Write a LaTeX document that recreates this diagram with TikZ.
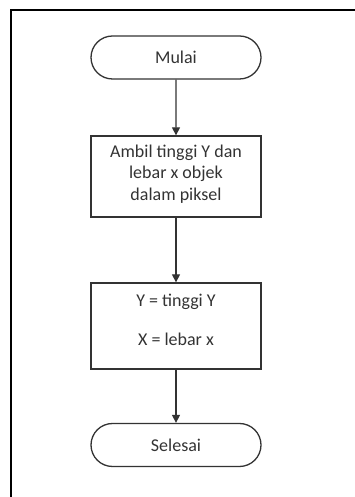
\documentclass[tikz,border=0pt]{standalone}
\usepackage{fontspec}
\setmainfont{Carlito}
\usetikzlibrary{shapes.misc,arrows.meta}
\definecolor{ink}{HTML}{333333}
\tikzset{
  x=1pt,y=1pt,
  terminal/.style={rounded rectangle, draw=ink, line width=1.3pt, minimum width=170pt, minimum height=43pt, inner sep=0pt, text=ink, font=\fontsize{18}{22}\selectfont},
  procbox/.style={rectangle, draw=ink, line width=1.3pt, minimum width=170pt, inner sep=0pt, text=ink, align=center, font=\fontsize{18}{21.5}\selectfont},
  label/.style={text=ink, align=center, inner sep=0pt, font=\fontsize{18}{21.5}\selectfont},
  flow/.style={draw=ink, line width=1.3pt, -{Triangle[length=8pt,width=8pt]}},
  frame/.style={draw=black, line width=2pt}
}
\begin{document}
\begin{tikzpicture}
\useasboundingbox (0,0) rectangle (355,497);
\coordinate (ftop) at (11,487);
\coordinate (fbot) at (11,0);
\coordinate (fright) at (355,487);
\draw[frame] (fbot) -- (ftop) -- (fright);

\node[terminal] (start) at (176,439.5) {Mulai};
\node[procbox, minimum height=81pt] (b1) at (176,320.5) {};
\node[label] (t1) at (176,323) {Ambil tinggi Y dan\\lebar x objek\\dalam piksel};
\node[procbox, minimum height=86pt] (b2) at (176,171) {};
\node[label] (t2) at (176,177) {Y = tinggi Y\\[17pt]X = lebar x};
\node[terminal] (end) at (176,52) {Selesai};

\draw[flow] (start) -- (b1);
\draw[flow] (b1) -- (b2);
\draw[flow] (b2) -- (end);
\end{tikzpicture}
\end{document}
